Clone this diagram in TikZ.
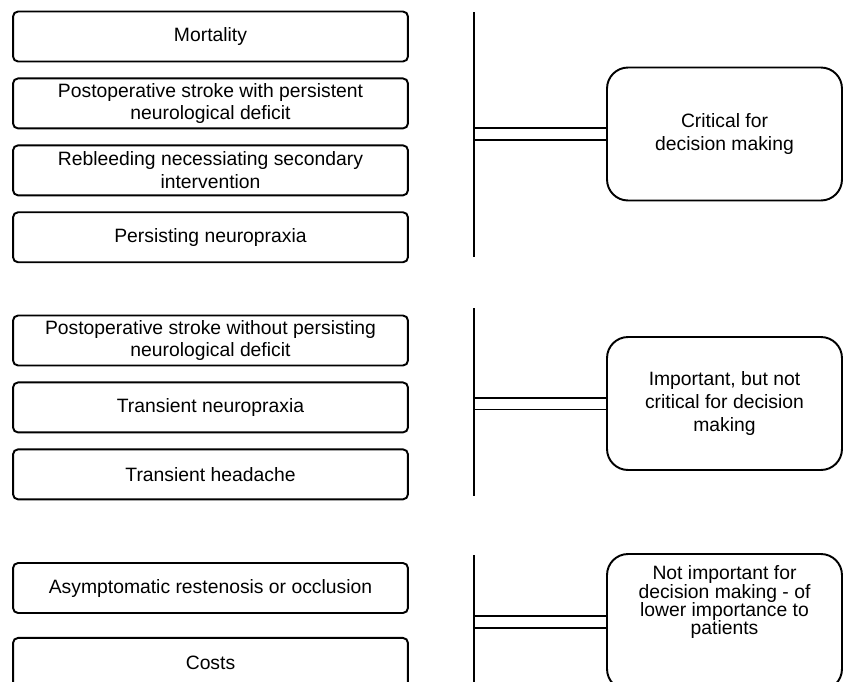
\documentclass[tikz,border=0pt]{standalone}
\usepackage{fontspec}
\setmainfont{Liberation Sans}
\usetikzlibrary{positioning}

\tikzset{
  outcome/.style={draw, line width=1.1pt, rounded corners=0.1cm, minimum width=7.9cm,
    minimum height=1cm, inner ysep=1pt, align=center, font=\fontsize{11}{13}\selectfont},
  rating/.style={draw, line width=1.1pt, rounded corners=0.42cm, minimum width=4.7cm,
    minimum height=2.66cm, align=center, font=\fontsize{11}{13}\selectfont},
  bar/.style={line width=1.1pt},
  link/.style={double, line width=1.1pt, double distance=0.2cm}
}

\begin{document}
\begin{tikzpicture}[x=0.02cm, y=-0.02cm]
    \clip (0,0) rectangle (843,681);

    % critical outcomes
    \node[outcome] (mort) at (210.5,36.5) {Mortality};
    \node[outcome, below=0.3cm of mort] (strokeP) {Postoperative stroke with persistent\\neurological deficit};
    \node[outcome, below=0.3cm of strokeP] (rebleed) {Rebleeding necessiating secondary\\intervention};
    \node[outcome, below=0.3cm of rebleed] (neuroP) {Persisting neuropraxia};

    % important outcomes
    \node[outcome] (strokeT) at (210.5,340.5) {Postoperative stroke without persisting\\neurological deficit};
    \node[outcome, below=0.3cm of strokeT] (neuroT) {Transient neuropraxia};
    \node[outcome, below=0.3cm of neuroT] (headache) {Transient headache};

    % not important outcomes
    \node[outcome] (restenosis) at (210.5,588) {Asymptomatic restenosis or occlusion};
    \node[outcome, below=0.46cm of restenosis] (costs) {Costs};

    % ratings
    \node[rating] (crit) at (724.5,134) {Critical for\\decision making};
    \node[rating] (imp) at (724.5,403.5) {Important, but not\\critical for decision\\making};
    \node[rating, minimum height=2.72cm, font=\fontsize{11}{10.5}\selectfont] (notimp) at (724.5,622)
        {Not important for\\decision making - of\\lower importance to\\patients\\[0.5cm]\mbox{}};

    \coordinate (g1top) at (474,12);
    \coordinate (g1bot) at (474,257);
    \coordinate (g2top) at (474,308);
    \coordinate (g2bot) at (474,496);
    \coordinate (g3top) at (474,555);
    \coordinate (g3bot) at (474,690);

    \draw[link] (g1top |- crit.west) -- (crit.west);
    \draw[link] (g2top |- imp.west) -- (imp.west);
    \draw[link] (g3top |- notimp.west) -- (notimp.west);

    \draw[bar] (g1top) -- (g1bot);
    \draw[bar] (g2top) -- (g2bot);
    \draw[bar] (g3top) -- (g3bot);
\end{tikzpicture}
\end{document}
